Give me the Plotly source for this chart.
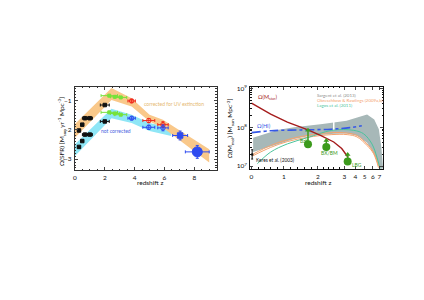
import numpy as np
import plotly.graph_objects as go

# ---------------- Left panel data: cosmic SFR density ----------------
band_z_corr = [0, 2.45, 3.8, 5.0, 5.9, 7.1, 9.0]
band_hi_corr = [-1.80, -0.57, -0.92, -1.48, -1.65, -2.04, -2.66]
band_lo_corr = [-2.27, -0.98, -1.20, -1.71, -1.93, -2.38, -3.11]

band_z_unc = [0, 2.45, 3.8, 5.0, 6.45]
band_hi_unc = [-2.49, -1.28, -1.48, -1.76, -1.93]
band_lo_unc = [-2.89, -1.60, -1.76, -2.04, -2.21]

black_z = [0.27, 0.49, 0.67, 1.0, 2.0]
black_xerr = [0.08, 0.08, 0.17, 0.17, 0.3]
black_corr = [-2.02, -1.82, -1.60, -1.60, -1.15]
black_unc = [-2.58, -2.38, -2.16, -2.16, -1.71]

green_z = [2.3, 2.67, 3.07]
green_xerr = [0.55, 0.3, 0.4]
green_corr = [-0.83, -0.87, -0.89]
green_unc = [-1.40, -1.44, -1.48]

red_z = [3.8, 4.95, 5.9]
red_xerr = [0.25, 0.4, 0.35]
red_yerr = [0.05, 0.07, 0.1]
red_corr = [-1.01, -1.68, -1.82]
blue_unc = [-1.60, -1.91, -1.93]

sq_z = [7.05]
sq_y = [-2.19]
sq_xerr = [0.5]
sq_yerr = [0.15]

big_z = [8.2]
big_y = [-2.75]
big_xerr = [0.8]
big_yerr = [0.22]

# ---------------- Right panel data: molecular gas density ----------------
tick_z = [0, 1, 2, 3, 4, 5, 6, 7]
tick_pos = [0, 32.6, 66.6, 93.3, 104.3, 113.6, 122.0, 128.6]
map_z = tick_z + [8]
map_pos = tick_pos + [134.6]


def zpos(z):
    return np.interp(np.asarray(z, dtype=float), map_z, map_pos)


sarg_z_hi = [0.05, 0.4, 0.8, 1.3, 1.7, 2.1, 2.6, 3.2, 4.2, 5.3, 6.2, 6.9, 7.3, 7.6]
sarg_hi = [7.73, 7.83, 7.93, 8.0, 8.05, 8.08, 8.12, 8.17, 8.25, 8.33, 8.2, 7.95, 7.5, 6.95]
sarg_z_lo = [0.05, 0.4, 0.8, 1.3, 1.7, 2.1, 2.6, 3.2, 4.2, 5.3, 6.2, 6.9, 7.3]
sarg_lo = [7.36, 7.45, 7.57, 7.70, 7.77, 7.80, 7.83, 7.84, 7.78, 7.6, 7.3, 7.0, 6.9]

obr_z = [0.03, 0.59, 1.1, 1.69, 2.53, 3.25, 4.18, 5.29, 6.09, 6.85]
obr_a = [7.30, 7.53, 7.68, 7.79, 7.86, 7.85, 7.79, 7.57, 7.36, 7.0]
obr_b = [7.26, 7.48, 7.63, 7.74, 7.81, 7.81, 7.75, 7.53, 7.32, 6.96]

lag_z = [0.18, 0.59, 1.1, 1.69, 2.53, 3.85, 4.9, 5.88, 6.6, 7.1]
lag_y = [7.06, 7.36, 7.57, 7.73, 7.92, 7.92, 7.83, 7.57, 7.23, 6.93]

mstar_z = [0, 0.3, 0.59, 1.1, 1.69, 2.1, 2.6, 2.9, 3.35]
mstar_y = [8.62, 8.47, 8.34, 8.13, 7.94, 7.79, 7.62, 7.45, 7.22]

hi_z = [0, 0.6, 1.5, 2.5, 3.5, 4.7]
hi_y = [7.86, 7.91, 7.93, 7.95, 7.99, 8.04]

gas_z = [1.71, 2.32, 3.3]
gas_y = [7.56, 7.49, 7.12]
gas_lim = [7.92, 7.66, 7.30]
gas_names = ["BzK", "BX/BM", "LBG"]

keres_z = [0.02]
keres_y = [7.3]
keres_err = [0.12]

gap_z = [2.6, 2.6]
gap_y = [7.92, 8.18]

# ---------------- colours ----------------
C_OR = "#F9C88A"
C_CY = "#8FE6F6"
C_GREEN = "#77E23A"
C_RED = "#F02A1E"
C_BLUE = "#2E4BF0"
C_GRAY = "#A7B8B8"
C_OBR = "#F4A36E"
C_LAG = "#4CC39C"
C_MSTAR = "#A51C1C"
C_HI = "#3558E6"
C_GAS = "#3C9A1C"

FONT = "Lato"

fig = go.Figure()

# ---- left panel ----
fig.add_trace(go.Scatter(x=band_z_unc + band_z_unc[::-1], y=band_hi_unc + band_lo_unc[::-1],
                         fill="toself", fillcolor=C_CY, line=dict(width=0), mode="lines",
                         hoverinfo="skip", xaxis="x", yaxis="y"))
fig.add_trace(go.Scatter(x=band_z_corr + band_z_corr[::-1], y=band_hi_corr + band_lo_corr[::-1],
                         fill="toself", fillcolor=C_OR, line=dict(width=0), mode="lines",
                         hoverinfo="skip", xaxis="x", yaxis="y"))


def pts(x, y, xerr, color, symbol="square", size=3.5, yerr=None, open_=False):
    d = dict(x=x, y=y, mode="markers", xaxis="x", yaxis="y",
             marker=dict(symbol=symbol + ("-open" if open_ else ""), size=size, color=color,
                         line=dict(width=1, color=color)),
             error_x=dict(type="data", array=xerr, color=color, thickness=1, width=1.5))
    if yerr is not None:
        d["error_y"] = dict(type="data", array=yerr, color=color, thickness=1, width=1.5)
    fig.add_trace(go.Scatter(**d))


pts(black_z, black_corr, black_xerr, "#111111")
pts(black_z, black_unc, black_xerr, "#111111")
pts(green_z, green_corr, green_xerr, C_GREEN, size=3)
pts(green_z, green_unc, green_xerr, C_GREEN, size=3)
pts(red_z, red_corr, red_xerr, C_RED, symbol="circle", size=4.5, yerr=red_yerr, open_=True)
pts(red_z, blue_unc, red_xerr, C_BLUE, symbol="circle", size=4.5, yerr=red_yerr, open_=True)
pts(sq_z, sq_y, sq_xerr, C_BLUE, symbol="square", size=5.5, yerr=sq_yerr)
pts(big_z, big_y, big_xerr, C_BLUE, symbol="circle", size=10, yerr=big_yerr)

# ---- right panel ----
fig.add_trace(go.Scatter(x=list(zpos(sarg_z_hi)) + list(zpos(sarg_z_lo[::-1])),
                         y=[10 ** v for v in sarg_hi] + [10 ** v for v in sarg_lo[::-1]],
                         fill="toself", fillcolor=C_GRAY, line=dict(width=0), mode="lines",
                         hoverinfo="skip", xaxis="x2", yaxis="y2"))
fig.add_trace(go.Scatter(x=zpos(gap_z), y=[10 ** v for v in gap_y], mode="lines",
                         line=dict(color="white", width=1.5), xaxis="x2", yaxis="y2"))
for arr in (obr_a, obr_b):
    fig.add_trace(go.Scatter(x=zpos(obr_z), y=[10 ** v for v in arr], mode="lines",
                             line=dict(color=C_OBR, width=1, shape="spline"), xaxis="x2", yaxis="y2"))
fig.add_trace(go.Scatter(x=zpos(lag_z), y=[10 ** v for v in lag_y], mode="lines",
                         line=dict(color=C_LAG, width=1, shape="spline"), xaxis="x2", yaxis="y2"))
fig.add_trace(go.Scatter(x=zpos(hi_z), y=[10 ** v for v in hi_y], mode="lines",
                         line=dict(color=C_HI, width=1.6, dash="dashdot", shape="spline"),
                         xaxis="x2", yaxis="y2"))
fig.add_trace(go.Scatter(x=zpos(mstar_z), y=[10 ** v for v in mstar_y], mode="lines",
                         line=dict(color=C_MSTAR, width=1.4), xaxis="x2", yaxis="y2"))
for z, y, lim in zip(gas_z, gas_y, gas_lim):
    fig.add_trace(go.Scatter(x=zpos([z, z]), y=[10 ** y, 10 ** lim], mode="lines",
                             line=dict(color=C_GAS, width=1.5), xaxis="x2", yaxis="y2"))
fig.add_trace(go.Scatter(x=zpos(gas_z), y=[10 ** v for v in gas_lim], mode="markers",
                         marker=dict(symbol="triangle-up", size=5, color=C_GAS), xaxis="x2", yaxis="y2"))
fig.add_trace(go.Scatter(x=zpos(gas_z), y=[10 ** v for v in gas_y], mode="markers",
                         marker=dict(symbol="circle", size=8, color=C_GAS), xaxis="x2", yaxis="y2"))
fig.add_trace(go.Scatter(x=zpos(keres_z), y=[10 ** v for v in keres_y], mode="markers",
                         marker=dict(symbol="circle", size=2.5, color="#111"),
                         error_y=dict(type="data", symmetric=False,
                                      array=[10 ** (keres_y[0] + keres_err[0]) - 10 ** keres_y[0]],
                                      arrayminus=[10 ** keres_y[0] - 10 ** (keres_y[0] - keres_err[0])],
                                      color="#111", thickness=1, width=1),
                         xaxis="x2", yaxis="y2"))

# ---- annotations ----
ann = []


def txt(x, y, s, color, size=5, xref="x", yref="y", xanchor="center", angle=0):
    ann.append(dict(x=x, y=y, xref=xref, yref=yref, text=s, showarrow=False, textangle=angle,
                    font=dict(family=FONT, size=size, color=color), xanchor=xanchor, yanchor="middle"))


txt(6.67, -1.11, "corrected for UV extinction", "#E5B870", 5)
txt(2.75, -2.04, "not corrected", "#4A5FE0", 5)

lx = lambda z: float(zpos([z])[0])
txt(lx(0.13), 8.76, "Ω(M<sub>star</sub>)", C_MSTAR, 5.5, "x2", "y2", "left")
txt(lx(0.10), 8.04, "Ω(HI)", C_HI, 5.5, "x2", "y2", "left")
txt(lx(1.93), 8.82, "Sargent et al. (2013)", "#8A8A8A", 4.4, "x2", "y2", "left")
txt(lx(1.93), 8.69, "Obreschkow & Rawlings (2009a,b)", C_OBR, 4.4, "x2", "y2", "left")
txt(lx(1.93), 8.56, "Lagos et al. (2011)", C_LAG, 4.4, "x2", "y2", "left")
txt(lx(0.07), 7.15, "Keres et al. (2003)", "#111", 4.8, "x2", "y2", "left")
txt(lx(1.60), 7.64, gas_names[0], C_GAS, 5, "x2", "y2")
txt(lx(2.44), 7.33, gas_names[1], C_GAS, 5, "x2", "y2")
txt(lx(4.17), 7.02, gas_names[2], C_GAS, 5, "x2", "y2")

# axis titles
txt(149 / 424, 1 - 181.5 / 300, "redshift z", "#111", 6.5, "paper", "paper")
txt(317.5 / 424, 1 - 181.5 / 300, "redshift z", "#111", 6.5, "paper", "paper")
txt(60 / 424, 1 - 130 / 300, "Ω(SFR) [M<sub>sun</sub> yr<sup>-1</sup> Mpc<sup>-3</sup>]", "#111", 6.5,
    "paper", "paper", angle=-90)
txt(229 / 424, 1 - 127 / 300, "Ω(M<sub>mol</sub>) [M<sub>sun</sub> Mpc<sup>-3</sup>]", "#111", 6.5,
    "paper", "paper", angle=-90)

AX = "#333333"
tickfont = dict(family=FONT, size=6.5, color="#111")

minor_z = [i * 0.2 for i in range(1, 16) if abs(i * 0.2 - round(i * 0.2)) > 1e-6]
log_minor = [m * 10 ** e for e in (6, 7, 8) for m in range(2, 10)]

fig.update_layout(
    width=424, height=300, margin=dict(l=0, r=0, t=0, b=0),
    paper_bgcolor="white", plot_bgcolor="white", showlegend=False,
    annotations=ann,
    xaxis=dict(domain=[73.3 / 424, 215.7 / 424], range=[0, 9.5], anchor="y",
               tickmode="linear", tick0=0, dtick=2, ticks="inside", ticklen=3,
               showline=True, linecolor=AX, linewidth=1, mirror="allticks", showgrid=False,
               zeroline=False, tickfont=tickfont, ticklabelstandoff=1,
               minor=dict(dtick=0.5, ticks="inside", ticklen=1.5, tickcolor=AX)),
    yaxis=dict(domain=[1 - 169.3 / 300, 1 - 85 / 300], range=[-3.37, -0.53], anchor="x",
               tickmode="linear", tick0=-3, dtick=1, ticks="inside", ticklen=3,
               showline=True, linecolor=AX, linewidth=1, mirror="allticks", showgrid=False,
               zeroline=False, tickfont=tickfont, ticklabelstandoff=1,
               minor=dict(dtick=0.1, ticks="inside", ticklen=1.5, tickcolor=AX)),
    xaxis2=dict(domain=[249.3 / 424, 383.3 / 424], range=[-1.4, 132.6], anchor="y2",
                tickmode="array", tickvals=tick_pos, ticktext=[str(t) for t in tick_z],
                ticks="inside", ticklen=3, showline=True, linecolor="#111", linewidth=1,
                mirror="allticks", showgrid=False, zeroline=False, tickfont=tickfont,
                ticklabelstandoff=1,
                minor=dict(tickmode="array", tickvals=list(zpos(minor_z)), ticks="inside",
                           ticklen=1.5, tickcolor="#111")),
    yaxis2=dict(domain=[1 - 168 / 300, 1 - 85 / 300], type="log", range=[6.93, 9.04], anchor="x2",
                tickmode="array", tickvals=[1e7, 1e8, 1e9],
                ticktext=["10<sup>7</sup>", "10<sup>8</sup>", "10<sup>9</sup>"],
                ticks="inside", ticklen=3, showline=True, linecolor="#111", linewidth=1,
                mirror="allticks", showgrid=False, zeroline=False, tickfont=tickfont,
                ticklabelstandoff=1,
                minor=dict(tickmode="array", tickvals=log_minor, ticks="inside", ticklen=1.5,
                           tickcolor="#111")),
)

fig.write_html("out.html", config={"displayModeBar": False, "staticPlot": True},
               post_script="document.documentElement.style.margin='0';"
                           "document.body.style.margin='0';document.body.style.overflow='hidden';")
